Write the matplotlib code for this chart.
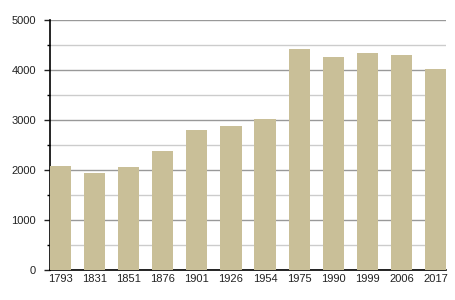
import numpy as np
import matplotlib
matplotlib.use("Agg")
import matplotlib.pyplot as plt
from matplotlib.ticker import MultipleLocator

#   Data
years = ["1793", "1831", "1851", "1876", "1901", "1926", "1954",
         "1975", "1990", "1999", "2006", "2017"]
population = [2080, 1934, 2054, 2374, 2796, 2874, 3014,
              4414, 4268, 4334, 4294, 4014]

barColor = "#c9bf98"
barWidth = 0.62

plt.rcParams['font.family'] = ['Liberation Sans', 'DejaVu Sans']

fig = plt.figure(figsize=(4.55, 3.0), dpi=100)
ax = fig.add_axes([50/455, 30/300, 396/455, 250/300])

x = np.arange(len(years))
ax.bar(x, population, width=barWidth, color=barColor, zorder=3)

ax.set_xlim(-barWidth/2, len(years) - 1 + barWidth/2)
ax.set_ylim(0, 5000)

ax.yaxis.set_major_locator(MultipleLocator(1000))
ax.yaxis.set_minor_locator(MultipleLocator(500))
ax.grid(axis='y', which='major', color='#999999', linewidth=1.0, zorder=0)
ax.grid(axis='y', which='minor', color='#cccccc', linewidth=1.0, zorder=0)

ax.set_xticks(x)
ax.set_xticklabels(years)
ax.tick_params(axis='x', length=0, pad=3, labelsize=8, colors='#222222')
ax.tick_params(axis='y', which='major', length=4, width=1, direction='out',
               labelsize=8, colors='#222222', pad=6)
ax.tick_params(axis='y', which='minor', length=2, width=1, direction='out')

for side in ['top', 'right']:
    ax.spines[side].set_visible(False)
ax.spines['left'].set_linewidth(1.2)
ax.spines['bottom'].set_linewidth(1.2)
ax.set_axisbelow(True)

fig.savefig("out.png", dpi=100)
